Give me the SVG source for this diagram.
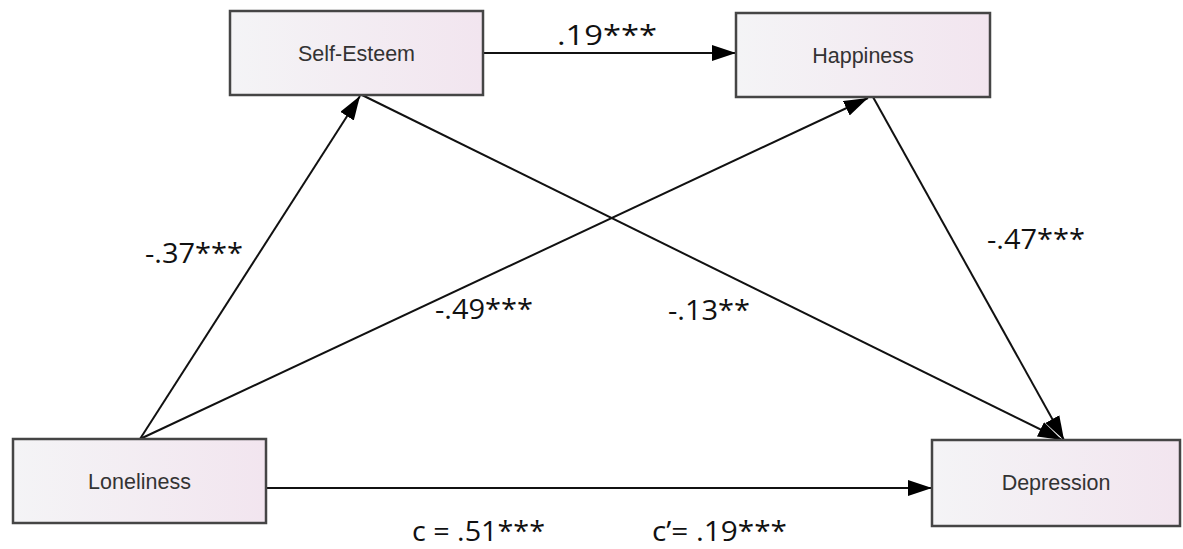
<svg xmlns="http://www.w3.org/2000/svg" width="1183" height="549" viewBox="0 0 1183 549">
  <defs>
    <linearGradient id="boxFill" x1="0" y1="0" x2="1" y2="0">
      <stop offset="0" stop-color="#f4f4f6"/>
      <stop offset="1" stop-color="#f2e5ef"/>
    </linearGradient>
    <marker id="arrow" markerUnits="userSpaceOnUse" markerWidth="26" markerHeight="18" refX="24" refY="8" orient="auto">
      <path d="M0,0 L24,8 L0,16 Z" fill="#000"/>
    </marker>
    <style>
      .box { fill: url(#boxFill); stroke: #454545; stroke-width: 2.5; }
      .node-label { font-family: "Liberation Sans", Arial, sans-serif; font-size: 21.5px; fill: #333; text-anchor: middle; }
      .conn { stroke: #111; stroke-width: 2; fill: none; marker-end: url(#arrow); }
      .coef { font-family: "Open Sans", "Liberation Sans", sans-serif; font-size: 27px; fill: #111; }
    </style>
  </defs>
  <rect width="1183" height="549" fill="#fff"/>

  <g id="connectors">
    <line class="conn" x1="140" y1="439" x2="360" y2="96"/>
    <line class="conn" x1="140" y1="439" x2="868" y2="98"/>
    <line class="conn" x1="362" y1="95" x2="1062" y2="440"/>
    <line class="conn" x1="873" y1="97" x2="1064" y2="440"/>
    <line class="conn" x1="483" y1="53" x2="736" y2="53"/>
    <line class="conn" x1="266" y1="488" x2="932" y2="488"/>
  </g>

  <g id="node-self-esteem">
    <rect class="box" x="230" y="11" width="253" height="84"/>
    <text class="node-label" x="356.5" y="61">Self-Esteem</text>
  </g>
  <g id="node-happiness">
    <rect class="box" x="736" y="13" width="254" height="84"/>
    <text class="node-label" x="863" y="63">Happiness</text>
  </g>
  <g id="node-loneliness">
    <rect class="box" x="13" y="439" width="253" height="84"/>
    <text class="node-label" x="139.5" y="489">Loneliness</text>
  </g>
  <g id="node-depression">
    <rect class="box" x="932" y="440" width="248" height="86"/>
    <text class="node-label" x="1056" y="490">Depression</text>
  </g>

  <g id="labels">
    <text class="coef" x="557" y="45" textLength="100" lengthAdjust="spacingAndGlyphs">.19***</text>
    <text class="coef" x="145" y="263" textLength="98" lengthAdjust="spacingAndGlyphs">-.37***</text>
    <text class="coef" x="435" y="319" textLength="98" lengthAdjust="spacingAndGlyphs">-.49***</text>
    <text class="coef" x="668" y="320" textLength="82" lengthAdjust="spacingAndGlyphs">-.13**</text>
    <text class="coef" x="987" y="249" textLength="98" lengthAdjust="spacingAndGlyphs">-.47***</text>
    <text class="coef" x="412" y="541" textLength="133" lengthAdjust="spacingAndGlyphs">c = .51***</text>
    <text class="coef" x="652" y="541" textLength="135" lengthAdjust="spacingAndGlyphs">c’= .19***</text>
  </g>
</svg>
